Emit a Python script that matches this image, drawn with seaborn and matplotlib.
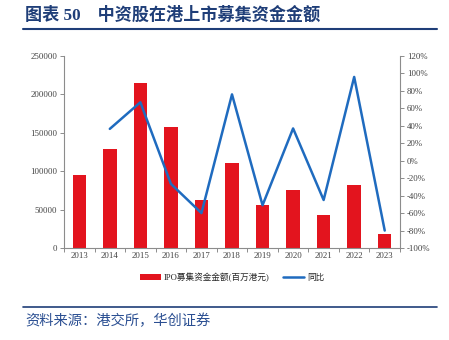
import matplotlib
matplotlib.use("Agg")
import matplotlib.pyplot as plt
import seaborn as sns
import numpy as np
import pandas as pd
from matplotlib.patches import Patch
from matplotlib.lines import Line2D
from matplotlib.ticker import FuncFormatter

years = ["2013", "2014", "2015", "2016", "2017", "2018", "2019", "2020", "2021", "2022", "2023"]
ipo_amount = [94500, 129000, 214500, 157300, 62800, 110500, 55500, 75400, 42500, 82300, 18600]
yoy = [None, 36.5, 67, -26.5, -60, 76, -51, 37, -45, 96, -80]
bar_label = "IPO募集资金金额(百万港元)"
line_label = "同比"
title = "图表 50    中资股在港上市募集资金金额"
source = "资料来源：港交所，华创证券"

sns.set_theme(style="white")
plt.rcParams['font.family'] = ['Liberation Serif', 'Noto Sans CJK SC', 'DejaVu Sans']

RED = "#E3141E"
BLUE = "#1F6BBF"
NAVY = "#1F3E78"
SRC = "#2B4F92"
GREY = "#8C8C8C"

fig = plt.figure(figsize=(4.49, 3.40), dpi=100)
ax = fig.add_axes([64/449, 1-248/340, (400-64)/449, (248-56)/340])

df = pd.DataFrame({"year": years, "amount": ipo_amount})
sns.barplot(data=df, x="year", y="amount", color=RED, width=0.44, ax=ax,
            saturation=1, edgecolor="none")
ax.set_xlim(-0.5, len(years) - 0.5)
ax.set_ylim(0, 250000)
ax.set_yticks(np.arange(0, 250001, 50000))
ax.set_xlabel("")
ax.set_ylabel("")

ax2 = ax.twinx()
ldf = pd.DataFrame({"pos": np.arange(len(years)), "yoy": [np.nan if v is None else v for v in yoy]})
sns.lineplot(data=ldf.dropna(), x="pos", y="yoy", color=BLUE, lw=1.8, ax=ax2)
ax2.set_ylim(-100, 120)
ax2.set_yticks(np.arange(-100, 121, 20))
ax2.yaxis.set_major_formatter(FuncFormatter(lambda v, p: f"{int(round(v))}%"))
ax2.set_xlim(-0.5, len(years) - 0.5)
ax2.set_xlabel("")
ax2.set_ylabel("")

for a in (ax, ax2):
    a.spines["top"].set_visible(False)
    for s in ("left", "right", "bottom"):
        a.spines[s].set_color(GREY)
        a.spines[s].set_linewidth(0.8)
ax.spines["right"].set_visible(False)
ax2.spines["left"].set_visible(False)
ax2.spines["bottom"].set_visible(False)

ax.tick_params(axis="y", which="major", direction="out", length=3, width=0.7, color=GREY,
               labelsize=6.3, labelcolor="#404040", pad=2, left=True)
ax2.tick_params(axis="y", which="major", direction="out", length=3, width=0.7, color=GREY,
                labelsize=6.3, labelcolor="#404040", pad=2, right=True)
ax.set_xticks(np.arange(len(years)))
ax.set_xticklabels(years)
ax.set_xticks(np.arange(-0.5, len(years), 1.0), minor=True)
ax.tick_params(axis="x", which="major", length=0, labelsize=6.3, labelcolor="#404040", pad=3)
ax.tick_params(axis="x", which="minor", direction="out", length=3, width=0.7, color=GREY, bottom=True)
for lab in ax.get_yticklabels() + ax2.get_yticklabels() + ax.get_xticklabels():
    lab.set_family(['Liberation Serif'])

handles = [Patch(facecolor=RED, edgecolor="none"), Line2D([0], [0], color=BLUE, lw=1.8)]
fig.legend(handles, [bar_label, line_label], loc="center", bbox_to_anchor=(232/449, 1-277/340),
           ncol=2, frameon=False, handlelength=2.5, handleheight=0.7,
           columnspacing=1.5, handletextpad=0.3,
           prop={'family': ['Liberation Serif', 'Noto Sans CJK SC'], 'size': 6.2})

fig.text(25/449, 1-15/340, title, fontsize=12.3, fontweight="bold", color=NAVY, va="center", ha="left",
         family=['Liberation Serif', 'Noto Sans CJK SC'])
fig.add_artist(Line2D([23/449, 437/449], [1-29/340, 1-29/340], color=NAVY, lw=1.5))
fig.add_artist(Line2D([23/449, 437/449], [1-307/340, 1-307/340], color=NAVY, lw=1.2))
fig.text(25/449, 1-321/340, source, fontsize=10.3, style="italic", color=SRC, va="center", ha="left",
         family=['Noto Sans CJK SC'])

fig.savefig("out.png", dpi=100)
